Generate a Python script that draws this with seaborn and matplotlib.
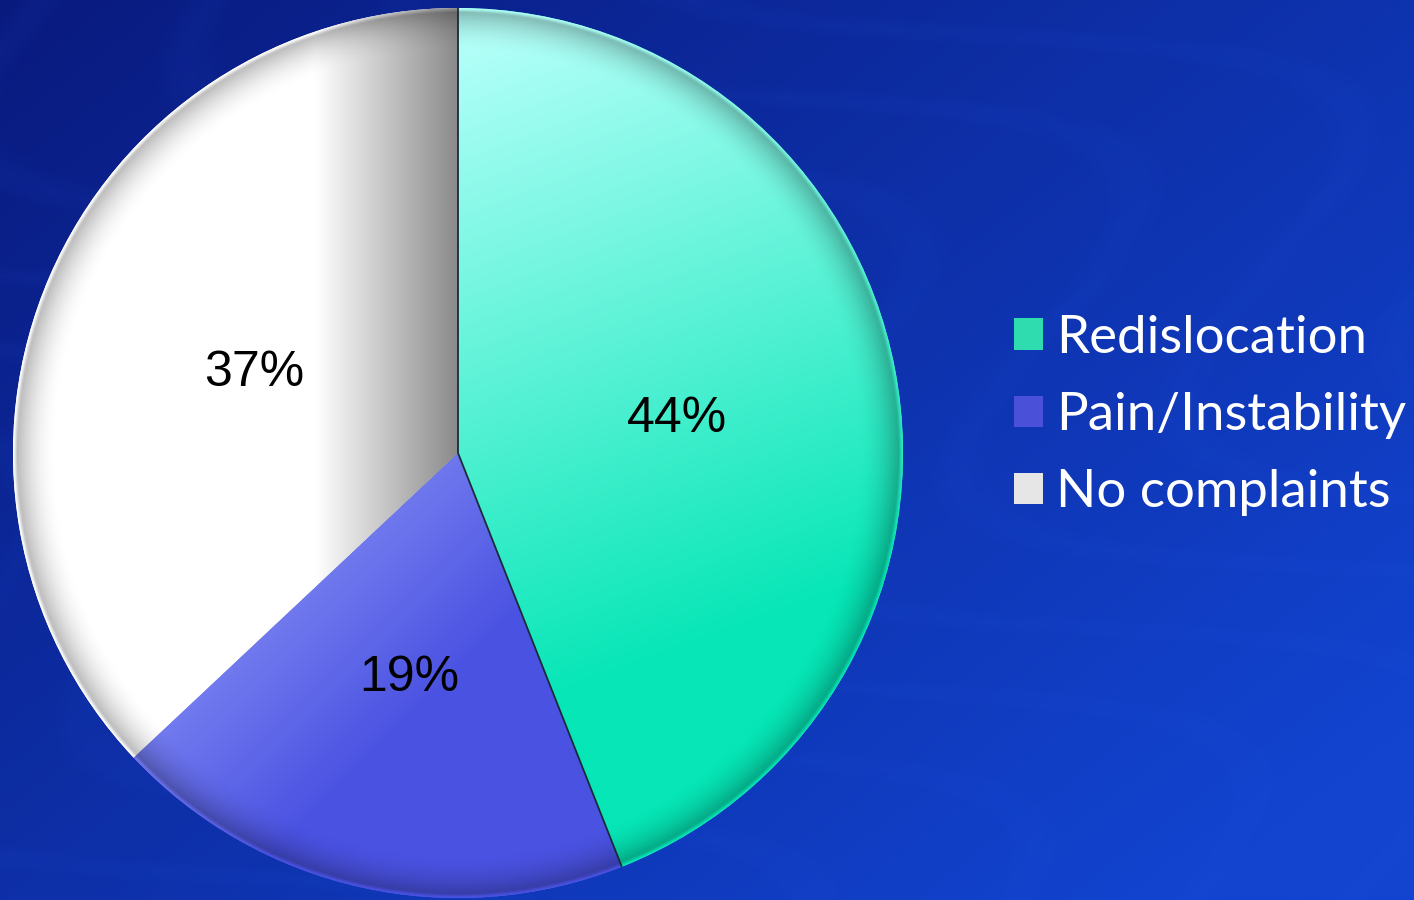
import numpy as np
import matplotlib
matplotlib.use("Agg")
import matplotlib.pyplot as plt
from matplotlib.patches import Patch, Circle
from matplotlib.colors import to_rgb
from matplotlib.transforms import ScaledTranslation
import seaborn as sns

# ---- data ----
categories = ["Redislocation", "Pain/Instability", "No complaints"]
shares = [44, 19, 37]

# ---- style ----
base_colors = ["#3cefc6", "#5960e6", "#f4f4f4"]
grad_specs = [  # (light colour, dark colour, direction angle deg, start, end)
    ("#b2fff8", "#06e6b6", -70, -0.85, 0.6),
    ("#a4acff", "#4a52e2", -45, -0.5, 0.35),
    ("#ffffff", "#8a8a8a", 0, -0.32, 0.0),
]

sns.set_theme(style="white")
plt.rcParams['font.family'] = ['Liberation Sans', 'DejaVu Sans']

W, H = 1414, 900
fig = plt.figure(figsize=(W / 100, H / 100), dpi=100)

# background gradient
bg = fig.add_axes([0, 0, 1, 1])
bg.set_axis_off()
yy, xx = np.mgrid[0:1:300j, 0:1:470j]
t = np.clip(0.6 * xx + 0.5 * yy, 0, 1)
c0 = np.array(to_rgb('#091a7e'))
c1 = np.array(to_rgb('#1244d0'))
bg.imshow(c0 + (c1 - c0) * t[..., None], aspect='auto', extent=[0, 1, 0, 1],
          origin='upper', interpolation='bilinear')
# faint streak texture (deterministic)
streak = 0.5 + 0.5 * np.sin(38 * (xx * 0.8 - yy * 0.6) + 6 * np.sin(9 * yy + 4 * xx))
tex = np.zeros((300, 470, 4))
tex[..., :3] = to_rgb('#2a5ae8')
tex[..., 3] = 0.07 * streak ** 6
bg.imshow(tex, aspect='auto', extent=[0, 1, 0, 1], origin='upper', interpolation='bilinear')
bg.set_xlim(0, 1)
bg.set_ylim(0, 1)

# pie
cx, cy, r = 458, 453, 445
ax = fig.add_axes([(cx - r) / W, (H - cy - r) / H, 2 * r / W, 2 * r / H])
ax.set_axis_off()
wedges, texts, autotexts = ax.pie(
    shares, colors=base_colors, startangle=90, counterclock=False,
    autopct='%1.0f%%', pctdistance=0.5, radius=1,
    wedgeprops=dict(linewidth=0),
    textprops=dict(fontsize=36, color='black', family=['Liberation Sans', 'DejaVu Sans']))

n = 500
gy, gx = np.mgrid[1:-1:n * 1j, -1:1:n * 1j]
for w, (lc, dc, ang, a, b) in zip(wedges, grad_specs):
    d = np.deg2rad(ang)
    proj = gx * np.cos(d) + gy * np.sin(d)
    tt = np.clip((proj - a) / (b - a), 0, 1)[..., None]
    img = np.array(to_rgb(lc)) + (np.array(to_rgb(dc)) - np.array(to_rgb(lc))) * tt
    im = ax.imshow(img, extent=[-1, 1, -1, 1], origin='upper', zorder=2,
                   interpolation='bilinear')
    im.set_clip_path(w)

# rim shading
rr = np.sqrt(gx ** 2 + gy ** 2)
rim = np.zeros((n, n, 4))
rim[..., 3] = np.clip((rr - 0.9) / 0.095, 0, 1) ** 2 * 0.28
rim[..., 3] *= np.clip((1.0 - rr) / 0.008, 0, 1)
im = ax.imshow(rim, extent=[-1, 1, -1, 1], origin='upper', zorder=3, interpolation='bilinear')
im.set_clip_path(Circle((0, 0), 1, transform=ax.transData))

# dark boundary lines along the first wedge
tw = wedges[0]
for th in (tw.theta1, tw.theta2):
    ax.plot([0, np.cos(np.deg2rad(th))], [0, np.sin(np.deg2rad(th))],
            color='#1c2a38', lw=1.3, zorder=4, solid_capstyle='butt')

shift = ScaledTranslation(0, -8 / 100, fig.dpi_scale_trans)
for at in autotexts:
    at.set_zorder(10)
    at.set_transform(at.get_transform() + shift)
ax.set_xlim(-1, 1)
ax.set_ylim(-1, 1)

# legend
handles = [Patch(facecolor=c, edgecolor='none') for c in ["#2fdcb0", "#4a50d8", "#e6e6e6"]]
fig.legend(handles, categories, loc='upper left',
           bbox_to_anchor=(1014 / W, 1 - 315 / H), frameon=False,
           prop=dict(family='Lato', size=38), labelcolor='white',
           handlelength=0.55, handleheight=0.55, handletextpad=0.25,
           labelspacing=0.57, borderpad=0, borderaxespad=0)

fig.savefig('out.png', dpi=100)
